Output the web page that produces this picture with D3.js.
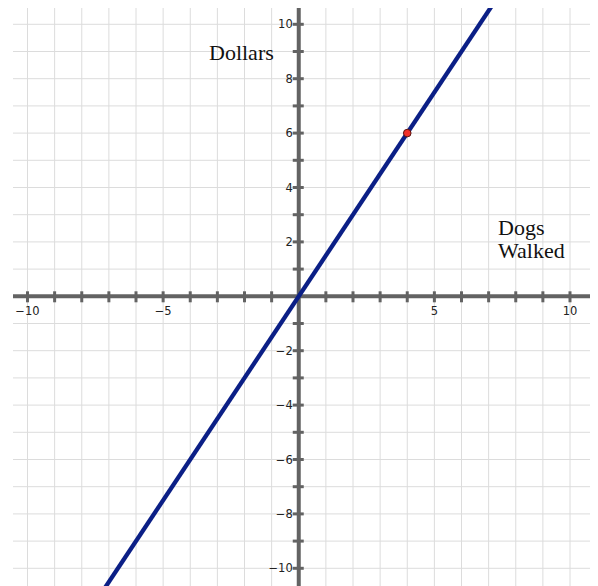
<!DOCTYPE html>
<html>
<head>
<meta charset="utf-8">
<script src="https://cdn.jsdelivr.net/npm/d3@7"></script>
<style>
body { margin: 0; background: #fff; }
svg { display: block; }
</style>
</head>
<body>
<div id="chart"></div>
<script>
var width = 598, height = 586;

// data
var xTicks = [-10, -9, -8, -7, -6, -5, -4, -3, -2, -1, 1, 2, 3, 4, 5, 6, 7, 8, 9, 10];
var yTicks = [-10, -9, -8, -7, -6, -5, -4, -3, -2, -1, 1, 2, 3, 4, 5, 6, 7, 8, 9, 10];
var xLabels = [-10, -5, 5, 10];
var yLabels = [-10, -8, -6, -4, -2, 2, 4, 6, 8, 10];
var lineX = [-8, 8];
var lineY = [-12, 12];
var pointX = [4];
var pointY = [6];

var plot = {left: 13, right: 590, top: 8, bottom: 586};

var x = d3.scaleLinear().domain([-10, 10]).range([27.5, 570]);
var y = d3.scaleLinear().domain([-10, 10]).range([568.3, 24.3]);

var svg = d3.select("#chart").append("svg")
    .attr("width", width)
    .attr("height", height);

svg.append("clipPath").attr("id", "clip")
  .append("rect")
    .attr("x", plot.left).attr("y", plot.top)
    .attr("width", plot.right - plot.left)
    .attr("height", plot.bottom - plot.top);

// grid
var grid = svg.append("g").attr("clip-path", "url(#clip)");
grid.selectAll("line.gx")
  .data(d3.range(-10, 11))
  .join("line")
    .attr("class", "gx")
    .attr("x1", d => x(d)).attr("x2", d => x(d))
    .attr("y1", plot.top).attr("y2", plot.bottom)
    .attr("stroke", "#dcdcdc").attr("stroke-width", 1);
grid.selectAll("line.gy")
  .data(d3.range(-10, 11))
  .join("line")
    .attr("class", "gy")
    .attr("y1", d => y(d)).attr("y2", d => y(d))
    .attr("x1", plot.left).attr("x2", plot.right)
    .attr("stroke", "#dcdcdc").attr("stroke-width", 1);

// axes
var axisColor = "#636363";
svg.append("line")
    .attr("x1", plot.left).attr("x2", plot.right)
    .attr("y1", y(0)).attr("y2", y(0))
    .attr("stroke", axisColor).attr("stroke-width", 4);
svg.append("line")
    .attr("x1", x(0)).attr("x2", x(0))
    .attr("y1", plot.top).attr("y2", plot.bottom)
    .attr("stroke", axisColor).attr("stroke-width", 4);

svg.selectAll("line.tx")
  .data(xTicks)
  .join("line")
    .attr("class", "tx")
    .attr("x1", d => x(d)).attr("x2", d => x(d))
    .attr("y1", y(0) - 5).attr("y2", y(0) + 6)
    .attr("stroke", axisColor).attr("stroke-width", 3);
svg.selectAll("line.ty")
  .data(yTicks)
  .join("line")
    .attr("class", "ty")
    .attr("y1", d => y(d)).attr("y2", d => y(d))
    .attr("x1", x(0) - 6).attr("x2", x(0) + 5)
    .attr("stroke", axisColor).attr("stroke-width", 3);

var fmt = d => d < 0 ? "\u2212" + Math.abs(d) : String(d);

svg.selectAll("text.lx")
  .data(xLabels)
  .join("text")
    .attr("class", "lx")
    .attr("x", d => x(d))
    .attr("y", y(0) + 19)
    .attr("text-anchor", "middle")
    .attr("font-family", "DejaVu Sans, sans-serif")
    .attr("font-size", 11.5)
    .attr("fill", "#222")
    .text(fmt);
svg.selectAll("text.ly")
  .data(yLabels)
  .join("text")
    .attr("class", "ly")
    .attr("x", x(0) - 6)
    .attr("y", d => y(d) + 4)
    .attr("text-anchor", "end")
    .attr("font-family", "DejaVu Sans, sans-serif")
    .attr("font-size", 11.5)
    .attr("fill", "#222")
    .text(fmt);

// the line y = 1.5x
var lineData = lineX.map((d, i) => [d, lineY[i]]);
svg.append("path")
    .attr("clip-path", "url(#clip)")
    .datum(lineData)
    .attr("d", d3.line().x(d => x(d[0])).y(d => y(d[1])))
    .attr("fill", "none")
    .attr("stroke", "#0b1f86")
    .attr("stroke-width", 4.3);

svg.selectAll("circle.pt")
  .data(pointX.map((d, i) => [d, pointY[i]]))
  .join("circle")
    .attr("class", "pt")
    .attr("cx", d => x(d[0]))
    .attr("cy", d => y(d[1]))
    .attr("r", 3.8)
    .attr("fill", "#f0302a")
    .attr("stroke", "#5a1410")
    .attr("stroke-width", 1);

// axis titles
var serif = "Liberation Serif, Times New Roman, serif";
svg.append("text")
    .attr("x", 209).attr("y", 60)
    .attr("font-family", serif).attr("font-size", 22)
    .attr("fill", "#111")
    .text("Dollars");
svg.append("text")
    .attr("x", 498).attr("y", 235)
    .attr("font-family", serif).attr("font-size", 22)
    .attr("fill", "#111")
    .text("Dogs");
svg.append("text")
    .attr("x", 498).attr("y", 258)
    .attr("font-family", serif).attr("font-size", 22)
    .attr("fill", "#111")
    .text("Walked");
</script>
</body>
</html>
